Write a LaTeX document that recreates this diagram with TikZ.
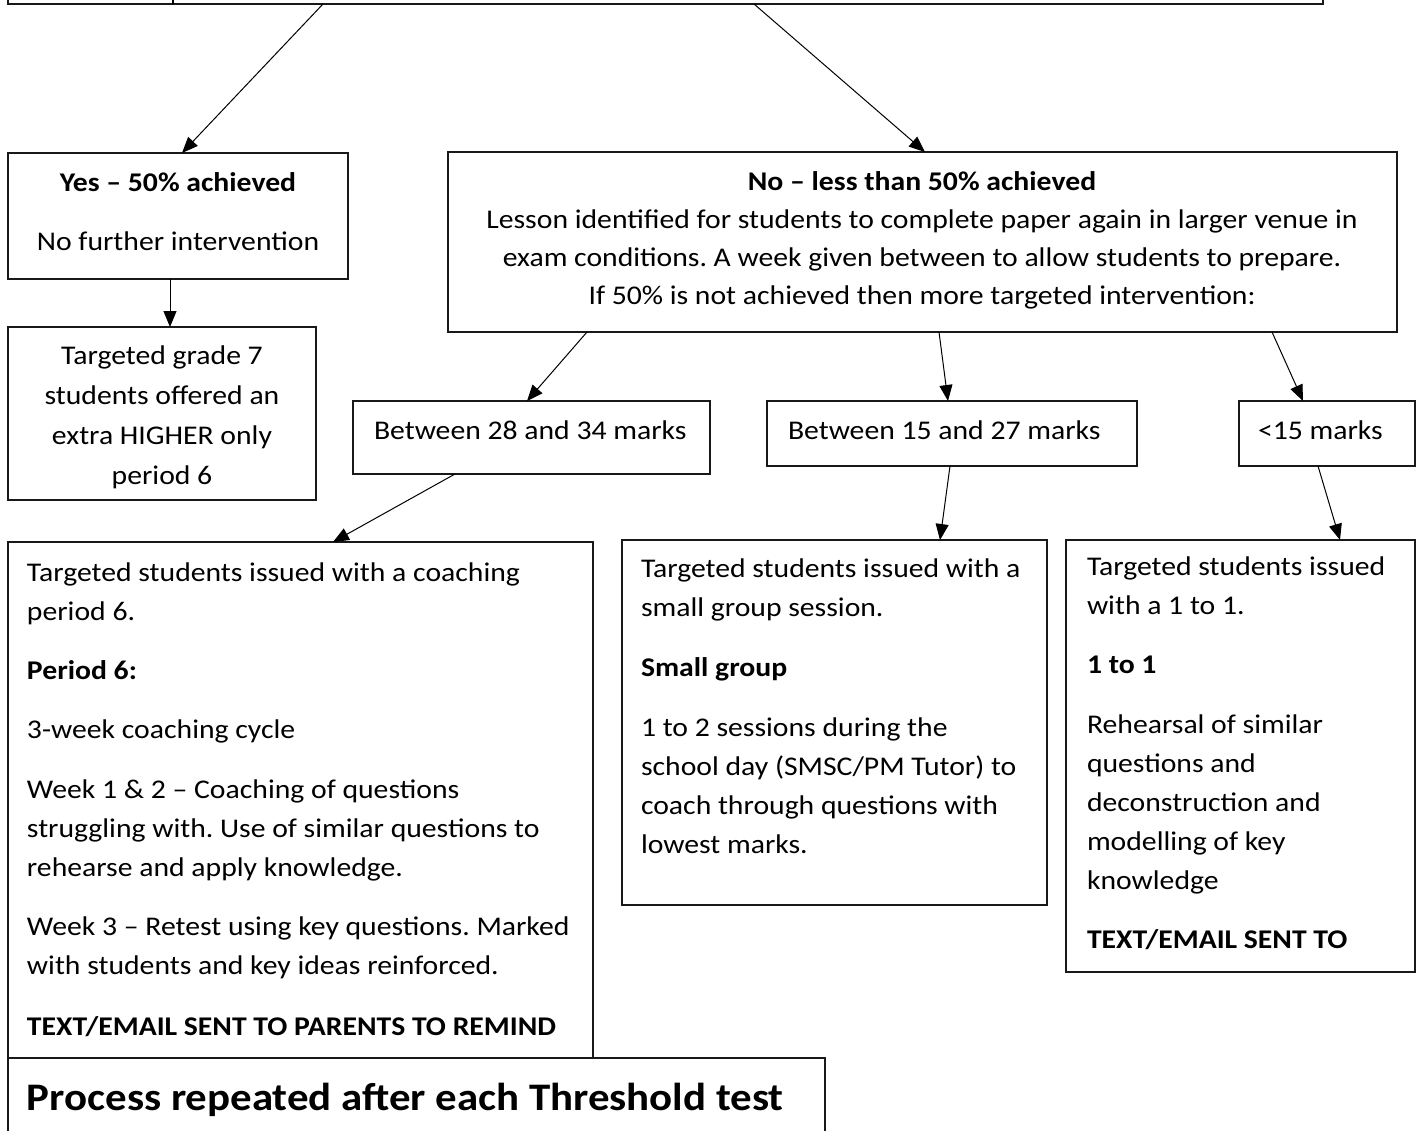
\documentclass[tikz,border=0pt]{standalone}
\usepackage{fontspec}
\setmainfont{Carlito}[FakeStretch=1.1]
\usetikzlibrary{arrows.meta,calc}
\frenchspacing
\begin{document}
\frenchspacing
\begin{tikzpicture}[x=1pt,y=-1pt,
  box/.style={draw=black!90, line width=1.5pt, rectangle, inner sep=0pt, outer sep=0pt, anchor=north west},
  conn/.style={line width=1pt, -{Triangle[length=16pt,width=13pt]}},
  txt/.style={inner sep=0pt, outer sep=0pt, anchor=base west, font=\fontsize{27}{39}\selectfont},
  ctxt/.style={txt, anchor=base},
  btxt/.style={txt, font=\fontsize{27}{39}\selectfont\bfseries},
  cbtxt/.style={ctxt, font=\fontsize{27}{39}\selectfont\bfseries},
]
\clip (0,0) rectangle (1424,1130);
\fill[white] (0,0) rectangle (1424,1130);

% boxes
\node[box, line width=2.5pt, minimum width=1315, minimum height=120] (top) at (8,-116) {};
\draw[line width=2pt] ($(top.south west)+(165,0)$) -- ($(top.north west)+(165,0)$);
\node[box, minimum width=340, minimum height=126] (yes) at (8,153) {};
\node[box, minimum width=308, minimum height=173] (g7) at (8,327) {};
\node[box, minimum width=949, minimum height=180] (no) at (448,152) {};
\node[box, minimum width=357, minimum height=73] (m1) at (353,401) {};
\node[box, minimum width=370, minimum height=65] (m2) at (767,401) {};
\node[box, minimum width=176, minimum height=65] (m3) at (1239,401) {};
\node[box, minimum width=585, minimum height=516] (b1) at (8,542) {};
\node[box, minimum width=425, minimum height=365] (b2) at (622,540) {};
\node[box, minimum width=349, minimum height=432] (b3) at (1066,540) {};
\node[box, minimum width=817, minimum height=120] (b4) at (8,1058) {};

% connectors
\draw[conn] ($(top.south west)+(315,0)$) -- ($(yes.north west)+(174,0)$);
\draw[conn] ($(top.south west)+(746,0)$) -- ($(no.north west)+(477,0)$);
\draw[conn] ($(yes.south west)+(162,0)$) -- ($(g7.north west)+(162,0)$);
\draw[conn] ($(no.south west)+(139,0)$) -- ($(m1.north west)+(174,0)$);
\draw[conn] ($(no.south west)+(491,0)$) -- ($(m2.north west)+(181,0)$);
\draw[conn] ($(no.south west)+(824,0)$) -- ($(m3.north west)+(64,0)$);
\draw[conn] ($(m1.south west)+(102,0)$) -- ($(b1.north west)+(325,0)$);
\draw[conn] ($(m2.south west)+(183,0)$) -- ($(b2.north west)+(318,0)$);
\draw[conn] ($(m3.south west)+(79,0)$) -- ($(b3.north west)+(274,0)$);

% yes box
\node[cbtxt] (yes1) at (178,191) {Yes – 50\% achieved};
\node[ctxt] (yes2) at (178,250) {No further intervention};
% grade 7 box
\node[ctxt] (g71) at (162,364) {Targeted grade 7};
\node[ctxt] (g72) at (162,404) {students offered an};
\node[ctxt] (g73) at (162,444) {extra HIGHER only};
\node[ctxt] (g74) at (162,484) {period 6};
% no box
\node[cbtxt] (no1) at (922,190) {No – less than 50\% achieved};
\node[ctxt] (no2) at (922,228) {Lesson identified for students to complete paper again in larger venue in};
\node[ctxt] (no3) at (922,266) {exam conditions. A week given between to allow students to prepare.};
\node[ctxt] (no4) at (922,304) {If 50\% is not achieved then more targeted intervention:};
% marks boxes
\node[txt] (m1t) at (374,439) {Between 28 and 34 marks};
\node[txt] (m2t) at (788,439) {Between 15 and 27 marks};
\node[txt] (m3t) at (1258,439) {<15 marks};
% b1
\node[txt] (b1a) at (27,581) {Targeted students issued with a coaching};
\node[txt] (b1b) at (27,620) {period 6.};
\node[btxt] (b1c) at (27,679) {Period 6:};
\node[txt] (b1d) at (27,738) {3-week coaching cycle};
\node[txt] (b1e) at (27,798) {Week 1 \& 2 – Coaching of questions};
\node[txt] (b1f) at (27,837) {struggling with. Use of similar questions to};
\node[txt] (b1g) at (27,876) {rehearse and apply knowledge.};
\node[txt] (b1h) at (27,935) {Week 3 – Retest using key questions. Marked};
\node[txt] (b1i) at (27,974) {with students and key ideas reinforced.};
\node[btxt] (b1j) at (27,1035) {TEXT/EMAIL SENT TO PARENTS TO REMIND};
% b2
\node[txt] (b2a) at (641,577) {Targeted students issued with a};
\node[txt] (b2b) at (641,616) {small group session.};
\node[btxt] (b2c) at (641,676) {Small group};
\node[txt] (b2d) at (641,736) {1 to 2 sessions during the};
\node[txt] (b2e) at (641,775) {school day (SMSC/PM Tutor) to};
\node[txt] (b2f) at (641,814) {coach through questions with};
\node[txt] (b2g) at (641,853) {lowest marks.};
% b3
\node[txt] (b3a) at (1087,575) {Targeted students issued};
\node[txt] (b3b) at (1087,614) {with a 1 to 1.};
\node[btxt] (b3c) at (1087,673) {1 to 1};
\node[txt] (b3d) at (1087,733) {Rehearsal of similar};
\node[txt] (b3e) at (1087,772) {questions and};
\node[txt] (b3f) at (1087,811) {deconstruction and};
\node[txt] (b3g) at (1087,850) {modelling of key};
\node[txt] (b3h) at (1087,889) {knowledge};
\node[btxt] (b3i) at (1087,948) {TEXT/EMAIL SENT TO};
% b4
\node[txt, font=\fontsize{39}{46}\selectfont\bfseries] (b4t) at (27,1110) {Process repeated after each Threshold test};
\end{tikzpicture}
\end{document}
